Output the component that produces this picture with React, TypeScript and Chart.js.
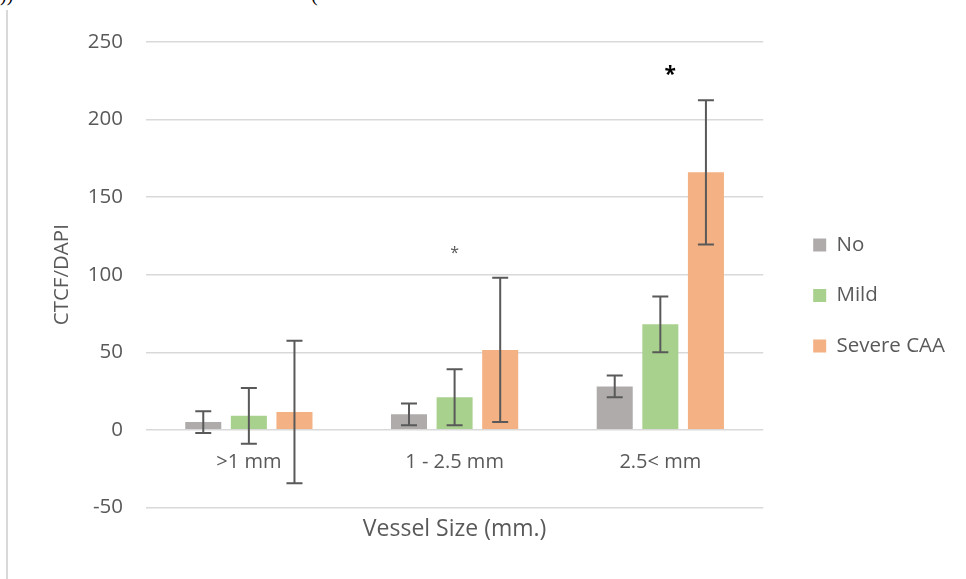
import React, { useEffect, useRef } from "react";
import { Chart, registerables } from "chart.js";

Chart.register(...registerables);

const categories = [">1 mm", "1 - 2.5 mm", "2.5< mm"];
const seriesNames = ["No", "Mild", "Severe CAA"];
const noValues = [5, 10, 28];
const mildValues = [9, 21, 68];
const severeValues = [11.5, 51.5, 166];
const noErrors = [7, 7, 7];
const mildErrors = [18, 18, 18];
const severeErrors = [46, 46.5, 46.5];
const starCategoryIndex = [1, 2];
const starValues = [113.5, 229];
const yTicksMin = -50;
const yTicksMax = 250;
const yTickStep = 50;

const colors = ["#AFABAB", "#A9D18E", "#F4B183"];
const errorSets = [noErrors, mildErrors, severeErrors];
const FONT = "'Open Sans', 'Liberation Sans', sans-serif";
const TEXT = "#595959";
const LEGEND_GAP = 20;

const errorBarPlugin = {
  id: "errorBars",
  afterDatasetsDraw(chart: any) {
    const ctx = chart.ctx;
    const yScale = chart.scales.y;
    chart.data.datasets.forEach((ds: any, di: number) => {
      const meta = chart.getDatasetMeta(di);
      meta.data.forEach((bar: any, i: number) => {
        const v = ds.data[i];
        const e = errorSets[di][i];
        const x = bar.x;
        const yTop = yScale.getPixelForValue(v + e);
        const yBot = yScale.getPixelForValue(v - e);
        const cap = 8;
        ctx.save();
        ctx.strokeStyle = "#595959";
        ctx.lineWidth = 2;
        ctx.beginPath();
        ctx.moveTo(x, yTop);
        ctx.lineTo(x, yBot);
        ctx.moveTo(x - cap, yTop);
        ctx.lineTo(x + cap, yTop);
        ctx.moveTo(x - cap, yBot);
        ctx.lineTo(x + cap, yBot);
        ctx.stroke();
        ctx.restore();
      });
    });
  },
};

const starPlugin = {
  id: "stars",
  afterDatasetsDraw(chart: any) {
    const ctx = chart.ctx;
    const xScale = chart.scales.x;
    const yScale = chart.scales.y;
    const styles = [
      { font: `16px ${FONT}`, color: "#595959", dx: 0 },
      { font: `bold 21px ${FONT}`, color: "#000000", dx: 10 },
    ];
    starCategoryIndex.forEach((ci, k) => {
      const s = styles[k];
      ctx.save();
      ctx.font = s.font;
      ctx.fillStyle = s.color;
      ctx.textAlign = "center";
      ctx.textBaseline = "middle";
      ctx.fillText("*", xScale.getPixelForValue(ci) + s.dx, yScale.getPixelForValue(starValues[k]));
      ctx.restore();
    });
  },
};

const legendShiftPlugin = {
  id: "legendShift",
  afterLayout(chart: any) {
    if (chart.legend) {
      chart.legend.left += LEGEND_GAP;
      chart.legend.right += LEGEND_GAP;
    }
  },
};

export default function App() {
  const ref = useRef<HTMLCanvasElement | null>(null);
  useEffect(() => {
    if (!ref.current) return;
    const valueSets = [noValues, mildValues, severeValues];
    const chart = new Chart(ref.current, {
      type: "bar",
      data: {
        labels: categories,
        datasets: seriesNames.map((name, i) => ({
          label: name,
          data: valueSets[i],
          backgroundColor: colors[i],
          borderWidth: 0,
          categoryPercentage: 0.665,
          barPercentage: 0.79,
        })),
      },
      options: {
        responsive: false,
        animation: false,
        layout: { padding: { left: 50, top: 42, right: 31, bottom: 36 } },
        plugins: {
          tooltip: { enabled: false },
          legend: {
            position: "right",
            align: "center",
            title: { display: true, text: " ", padding: 0, font: { family: FONT, size: 5 } },
            labels: {
              boxWidth: 13,
              boxHeight: 13,
              padding: 30,
              color: TEXT,
              font: { family: FONT, size: 20.5 },
            },
          },
        },
        scales: {
          x: {
            type: "category",
            position: { y: 0 } as any,
            grid: { display: false, drawTicks: false },
            border: { display: false },
            ticks: { padding: 20, color: TEXT, font: { family: FONT, size: 20 } },
          },
          x2: {
            type: "category",
            position: "bottom",
            labels: categories,
            grid: { display: false, drawTicks: false },
            border: { display: false },
            ticks: { display: false },
            title: {
              display: true,
              text: "Vessel Size (mm.)",
              padding: { top: 8, bottom: 0 },
              color: TEXT,
              font: { family: FONT, size: 23 },
            },
          },
          y: {
            min: yTicksMin,
            max: yTicksMax,
            ticks: { stepSize: yTickStep, padding: 23, color: TEXT, font: { family: FONT, size: 20.5 } },
            grid: { color: "#D9D9D9", lineWidth: 1.5, drawTicks: false },
            border: { display: false },
            title: {
              display: true,
              text: "CTCF/DAPI",
              padding: 0,
              color: TEXT,
              font: { family: FONT, size: 20.5 },
            },
            afterFit: (s: any) => {
              s.width = 96;
            },
          },
        },
      } as any,
      plugins: [errorBarPlugin, starPlugin, legendShiftPlugin],
    });
    return () => chart.destroy();
  }, []);

  return (
    <div style={{ position: "absolute", left: 0, top: 0, width: 966, height: 579, background: "#fff", overflow: "hidden" }}>
      <div style={{ position: "absolute", left: 6, top: 10, width: 2, height: 569, background: "#D9D9D9" }} />
      <span style={{ position: "absolute", left: 0, top: -17, font: "20px 'Liberation Serif', serif", color: "#000", whiteSpace: "pre" }}>))</span>
      <span style={{ position: "absolute", left: 311, top: -17, font: "20px 'Liberation Serif', serif", color: "#000", whiteSpace: "pre" }}>(</span>
      <canvas ref={ref} width={966} height={579} style={{ position: "absolute", left: 0, top: 0 }} />
    </div>
  );
}
